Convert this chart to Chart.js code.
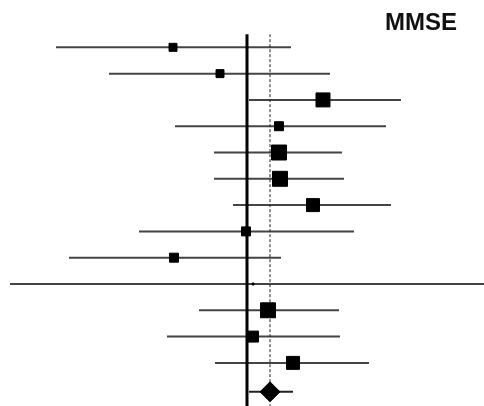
<!DOCTYPE html>
<html>
<head>
<meta charset="utf-8">
<script src="https://cdn.jsdelivr.net/npm/chart.js@4.4.1/dist/chart.umd.min.js"></script>
<style>
  body { margin: 0; background: #fff; }
  #wrap { position: relative; width: 484px; height: 406px; }
  #title { position: absolute; left: 385px; top: 8px; font: bold 24px "Liberation Sans", Arial, sans-serif; color: #111; }
</style>
</head>
<body>
<div id="wrap">
  <canvas id="forest"></canvas>
  <div id="title">MMSE</div>
</div>
<script>
// datos del forest plot (diferencia de medias estandarizada)
const rows = [1, 2, 3, 4, 5, 6, 7, 8, 9, 10, 11, 12, 13];
const estimates = [-0.74, -0.27, 0.76, 0.32, 0.32, 0.33, 0.66, -0.01, -0.73, 0.06, 0.21, 0.06, 0.46];
const lower = [-1.91, -1.38, 0.02, -0.72, -0.33, -0.33, -0.14, -1.08, -1.78, -2.37, -0.48, -0.80, -0.32];
const upper = [0.44, 0.83, 1.54, 1.39, 0.95, 0.97, 1.44, 1.07, 0.34, 2.50, 0.92, 0.93, 1.22];
const weights = [4.05, 4.05, 11.25, 5.0, 12.8, 12.8, 9.8, 5.0, 5.0, 0.45, 12.8, 7.2, 9.8];

const pooledRow = 14.1;
const pooledEst = 0.23;
const pooledLower = 0.02;
const pooledUpper = 0.46;

// lado del cuadrado proporcional a la raiz del peso
function squareRadius(w) {
  const side = 4.47 * Math.sqrt(w);
  return Math.max((side - 1) / Math.SQRT2, 1);
}

const ciSets = rows.map((r, i) => ({
  type: 'line',
  data: [{ x: lower[i], y: r }, { x: upper[i], y: r }],
  borderColor: '#444',
  borderWidth: 2,
  pointRadius: 0,
  order: 3
}));

const datasets = [
  ...ciSets,
  {
    type: 'line',
    data: [{ x: pooledLower, y: pooledRow }, { x: pooledUpper, y: pooledRow }],
    borderColor: '#222',
    borderWidth: 2,
    pointRadius: 0,
    order: 3
  },
  {
    // linea de no efecto
    type: 'line',
    data: [{ x: 0, y: 0.5 }, { x: 0, y: 15 }],
    borderColor: '#000',
    borderWidth: 3,
    pointRadius: 0,
    order: 2
  },
  {
    // linea del efecto combinado
    type: 'line',
    data: [{ x: pooledEst, y: 0.5 }, { x: pooledEst, y: 15 }],
    borderColor: '#222',
    borderWidth: 1,
    borderDash: [3, 2],
    pointRadius: 0,
    order: 2
  },
  {
    type: 'scatter',
    data: rows.map((r, i) => ({ x: estimates[i], y: r })),
    pointStyle: 'rect',
    pointRadius: weights.map(squareRadius),
    backgroundColor: '#000',
    borderColor: '#000',
    borderWidth: 1,
    order: 1
  },
  {
    type: 'scatter',
    data: [{ x: pooledEst, y: pooledRow }],
    pointStyle: 'rectRot',
    pointRadius: 10,
    backgroundColor: '#000',
    borderColor: '#000',
    borderWidth: 1,
    order: 0
  }
];

new Chart(document.getElementById('forest'), {
  type: 'scatter',
  data: { datasets },
  options: {
    responsive: true,
    maintainAspectRatio: false,
    animation: false,
    layout: { padding: 0, autoPadding: false },
    scales: {
      x: { type: 'linear', min: -2.47, max: 2.37, display: false },
      y: { type: 'linear', min: -0.8, max: 14.64, reverse: true, display: false }
    },
    plugins: {
      legend: { display: false },
      tooltip: { enabled: false }
    }
  }
});
</script>
</body>
</html>
